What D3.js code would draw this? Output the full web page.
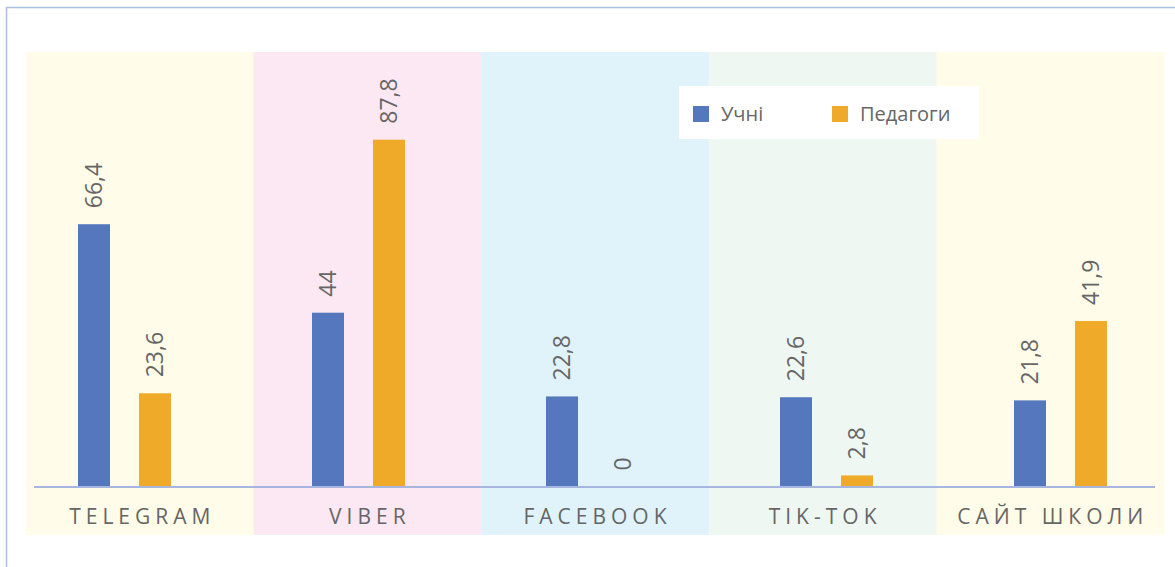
<!DOCTYPE html>
<html>
<head>
<meta charset="utf-8">
<script src="https://cdn.jsdelivr.net/npm/d3@7"></script>
<style>
  body { margin: 0; background: #fff; }
  text { font-family: "Open Sans", sans-serif; }
</style>
</head>
<body>
<div id="chart"></div>
<script>
var categories = ["TELEGRAM", "VIBER", "FACEBOOK", "TIK-TOK", "САЙТ ШКОЛИ"];
var seriesNames = ["Учні", "Педагоги"];
var pupils = [66.4, 44, 22.8, 22.6, 21.8];
var teachers = [23.6, 87.8, 0, 2.8, 41.9];
var bandColors = ["#fffce9", "#fce8f2", "#e1f3fa", "#eef7f2", "#fffce9"];
var seriesColors = ["#5577be", "#f0aa2a"];

var svgWidth = 1175;
var svgHeight = 567;

var svg = d3.select("#chart")
  .append("svg")
  .attr("width", svgWidth)
  .attr("height", svgHeight);

// outer frame (only top and left visible)
svg.append("path")
  .attr("d", "M6.5,567 V7.5 H1175")
  .attr("fill", "none")
  .attr("stroke", "#a9c0e0")
  .attr("stroke-width", 1.5);

// background stripes
var bgScale = d3.scaleBand()
  .domain(categories)
  .range([26, 1164]);

svg.selectAll(".bg")
  .data(categories)
  .enter()
  .append("rect")
  .attr("class", "bg")
  .attr("x", d => bgScale(d))
  .attr("y", 52)
  .attr("width", bgScale.bandwidth() + 0.5)
  .attr("height", 483)
  .attr("fill", (d, i) => bandColors[i]);

// bar scales
var xScale = d3.scaleBand()
  .domain(categories)
  .range([7.5, 1177.5]);

var xSub = d3.scaleBand()
  .domain(seriesNames)
  .range([0, 93])
  .paddingInner(29 / 61);

var yScale = d3.scaleLinear()
  .domain([0, 100])
  .range([486.5, 91.5]);

var rows = [];
categories.forEach(function (c, i) {
  rows.push({ cat: c, s: seriesNames[0], v: pupils[i], k: 0 });
  rows.push({ cat: c, s: seriesNames[1], v: teachers[i], k: 1 });
});

function barX(d) {
  return xScale(d.cat) + xScale.bandwidth() / 2 - 46.5 + xSub(d.s);
}

svg.selectAll(".bar")
  .data(rows)
  .enter()
  .append("rect")
  .attr("class", "bar")
  .attr("x", barX)
  .attr("y", d => yScale(d.v))
  .attr("width", xSub.bandwidth())
  .attr("height", d => yScale(0) - yScale(d.v))
  .attr("fill", d => seriesColors[d.k]);

// value labels
svg.selectAll(".val")
  .data(rows)
  .enter()
  .append("text")
  .attr("class", "val")
  .attr("transform", d => `translate(${barX(d) + xSub.bandwidth() / 2}, ${yScale(d.v) - 16}) rotate(-90)`)
  .attr("dy", "0.36em")
  .style("font-size", "23px")
  .style("fill", "#666666")
  .text(d => String(d.v).replace(".", ","));

// axis line
svg.append("line")
  .attr("x1", 34)
  .attr("x2", 1155)
  .attr("y1", yScale(0) + 0.5)
  .attr("y2", yScale(0) + 0.5)
  .attr("stroke", "#a6b6e0")
  .attr("stroke-width", 2);

// category labels
svg.selectAll(".cat")
  .data(categories)
  .enter()
  .append("text")
  .attr("class", "cat")
  .attr("x", d => bgScale(d) + bgScale.bandwidth() / 2 + 2.5)
  .attr("y", 524)
  .style("font-size", "21px")
  .style("letter-spacing", "5px")
  .style("text-anchor", "middle")
  .style("fill", "#666666")
  .text(d => d);

// legend
var legend = svg.append("g");
legend.append("rect")
  .attr("x", 679)
  .attr("y", 86)
  .attr("width", 300)
  .attr("height", 53)
  .attr("fill", "#ffffff");

var legendX = [693, 832];
seriesNames.forEach(function (name, i) {
  legend.append("rect")
    .attr("x", legendX[i])
    .attr("y", 106)
    .attr("width", 16)
    .attr("height", 16)
    .attr("fill", seriesColors[i]);
  legend.append("text")
    .attr("x", legendX[i] + 28)
    .attr("y", 121)
    .style("font-size", "20px")
    .style("fill", "#666666")
    .text(name);
});
</script>
</body>
</html>
